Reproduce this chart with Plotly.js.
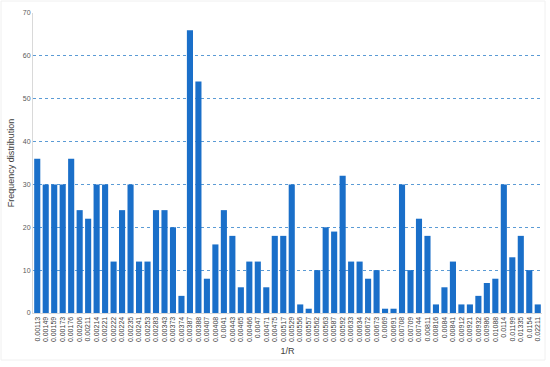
<!DOCTYPE html>
<html>
<head>
<meta charset="utf-8">
<script src="https://cdn.plot.ly/plotly-3.0.1.min.js"></script>
<style>
  html, body { margin: 0; padding: 0; background: #fff; }
  #chart { width: 550px; height: 367px; }
</style>
</head>
<body>
<div id="chart"></div>
<script>
var invR = [
  "0.00113", "0.00149", "0.00159", "0.00173", "0.00176", "0.00206", "0.00211", "0.00214", "0.00221", "0.00222",
  "0.00224", "0.00235", "0.00241", "0.00253", "0.00283", "0.00343", "0.00373", "0.00374", "0.00387", "0.00388",
  "0.00407", "0.00408", "0.0041", "0.00443", "0.00465", "0.00466", "0.0047", "0.00471", "0.00475", "0.00517",
  "0.00529", "0.00556", "0.00557", "0.00562", "0.00563", "0.00587", "0.00592", "0.00633", "0.00634", "0.00672",
  "0.00673", "0.0069", "0.00691", "0.00708", "0.00709", "0.00744", "0.00811", "0.00816", "0.0084", "0.00841",
  "0.00912", "0.00921", "0.00932", "0.00986", "0.01088", "0.0114", "0.01199", "0.01335", "0.0154", "0.02211"
];

var freq = [
  36, 30, 30, 30, 36, 24, 22, 30, 30, 12,
  24, 30, 12, 12, 24, 24, 20, 4, 66, 54,
  8, 16, 24, 18, 6, 12, 12, 6, 18, 18,
  30, 2, 1, 10, 20, 19, 32, 12, 12, 8,
  10, 1, 1, 30, 10, 22, 18, 2, 6, 12,
  2, 2, 4, 7, 8, 30, 13, 18, 10, 2
];

var yTicks = [0, 10, 20, 30, 40, 50, 60, 70];

var trace = {
  x: invR,
  y: freq,
  type: "bar",
  marker: { color: "#1a6fc9" },
  hoverinfo: "x+y"
};

// plot area: 33..542 horizontally, 13..313 vertically
var pw = 550 - 33 - 8, ph = 367 - 13 - 54;

var layout = {
  width: 550,
  height: 367,
  margin: { l: 33, r: 8, t: 13, b: 54 },
  paper_bgcolor: "#fff",
  plot_bgcolor: "#fff",
  font: { family: "Liberation Sans, Arial, sans-serif", color: "#595959", size: 8 },
  bargap: 0.28,
  showlegend: false,
  xaxis: {
    type: "category",
    tickangle: -90,
    tickfont: { size: 7, color: "#404040" },
    ticks: "",
    showgrid: false,
    showline: true,
    linecolor: "#d9d9d9",
    linewidth: 1,
    title: { text: "1/R", font: { size: 9, color: "#404040" }, standoff: 6 }
  },
  yaxis: {
    range: [0, 70],
    tickvals: yTicks,
    tickfont: { size: 7, color: "#595959" },
    showgrid: true,
    gridcolor: "#5b9bd5",
    griddash: "dot",
    gridwidth: 1,
    zeroline: false,
    showline: true,
    linecolor: "#d9d9d9",
    linewidth: 1,
    ticks: "",
    title: { text: "Frequency distribution", font: { size: 9, color: "#404040" }, standoff: 6 }
  },
  shapes: [{
    type: "rect", xref: "paper", yref: "paper",
    x0: -32 / pw, x1: (545 - 33) / pw,
    y0: -(360 - 313) / ph, y1: (313 - 1) / ph,
    line: { color: "#f0f0f0", width: 1 },
    layer: "below"
  }]
};

Plotly.newPlot("chart", [trace], layout, { displayModeBar: false, staticPlot: true });
</script>
</body>
</html>
